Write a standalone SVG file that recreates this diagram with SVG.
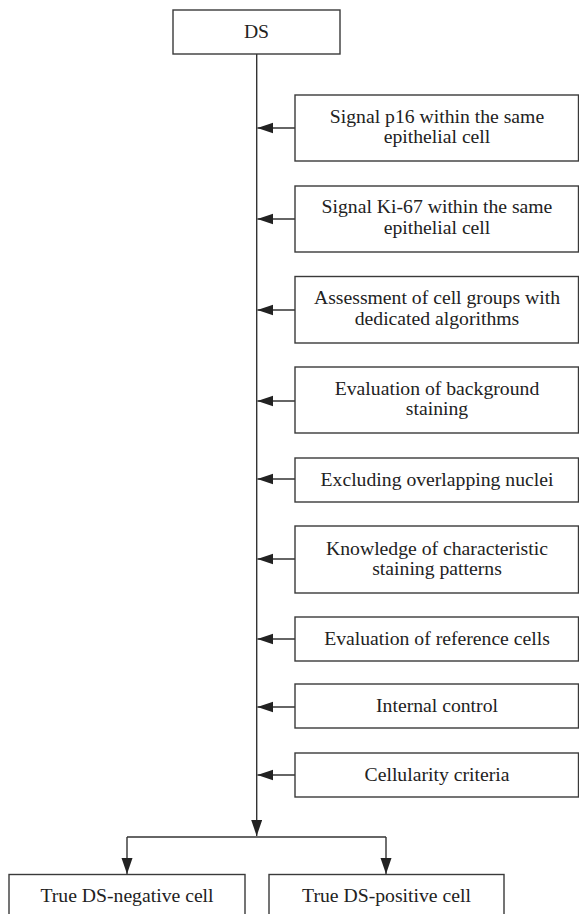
<svg xmlns="http://www.w3.org/2000/svg" width="579" height="914" viewBox="0 0 579 914">
<style>
.box{fill:#fff;stroke:#3a3a3a;stroke-width:1.4}
.t{font-family:"Liberation Serif","Times New Roman",serif;font-size:19.7px;fill:#222;text-anchor:middle}
.c{fill:none;stroke:#333;stroke-width:1.4}
</style>
<defs>
<marker id="ah" markerUnits="userSpaceOnUse" markerWidth="17" markerHeight="12" refX="16" refY="5.5" orient="auto">
<path d="M0,0 L16,5.5 L0,11 z" fill="#222"/>
</marker>
</defs>
<rect width="579" height="914" fill="#fff"/>
<g id="connectors">
<line class="c" x1="256.7" y1="54" x2="256.7" y2="836" marker-end="url(#ah)"/>
<line class="c" x1="127" y1="837" x2="386" y2="837"/>
<line class="c" x1="127" y1="837" x2="127" y2="874" marker-end="url(#ah)"/>
<line class="c" x1="386" y1="837" x2="386" y2="874" marker-end="url(#ah)"/>
<line class="c" x1="295" y1="128" x2="257.4" y2="128" marker-end="url(#ah)"/>
<line class="c" x1="295" y1="219" x2="257.4" y2="219" marker-end="url(#ah)"/>
<line class="c" x1="295" y1="310" x2="257.4" y2="310" marker-end="url(#ah)"/>
<line class="c" x1="295" y1="401" x2="257.4" y2="401" marker-end="url(#ah)"/>
<line class="c" x1="295" y1="479" x2="257.4" y2="479" marker-end="url(#ah)"/>
<line class="c" x1="295" y1="559" x2="257.4" y2="559" marker-end="url(#ah)"/>
<line class="c" x1="295" y1="639" x2="257.4" y2="639" marker-end="url(#ah)"/>
<line class="c" x1="295" y1="707" x2="257.4" y2="707" marker-end="url(#ah)"/>
<line class="c" x1="295" y1="775" x2="257.4" y2="775" marker-end="url(#ah)"/>
</g>
<g id="ds"><rect class="box" x="173" y="10" width="167" height="44"/><text class="t" x="256.5" y="37.5">DS</text></g>
<g id="n1"><rect class="box" x="295" y="95" width="283.5" height="66"/><text class="t" x="437" y="122.7">Signal p16 within the same</text><text class="t" x="437" y="143.4">epithelial cell</text></g>
<g id="n2"><rect class="box" x="295" y="186" width="283.5" height="66"/><text class="t" x="437" y="213.2">Signal Ki-67 within the same</text><text class="t" x="437" y="233.9">epithelial cell</text></g>
<g id="n3"><rect class="box" x="295" y="276.5" width="283.5" height="66.5"/><text class="t" x="437" y="304">Assessment of cell groups with</text><text class="t" x="437" y="324.7">dedicated algorithms</text></g>
<g id="n4"><rect class="box" x="295" y="367" width="283.5" height="66"/><text class="t" x="437" y="394.7">Evaluation of background</text><text class="t" x="437" y="415.4">staining</text></g>
<g id="n5"><rect class="box" x="295" y="458" width="283.5" height="44"/><text class="t" x="437" y="485.5">Excluding overlapping nuclei</text></g>
<g id="n6"><rect class="box" x="295" y="526" width="283.5" height="67"/><text class="t" x="437" y="554.5">Knowledge of characteristic</text><text class="t" x="437" y="575.2">staining patterns</text></g>
<g id="n7"><rect class="box" x="295" y="617" width="283.5" height="44"/><text class="t" x="437" y="644.5">Evaluation of reference cells</text></g>
<g id="n8"><rect class="box" x="295" y="684" width="283.5" height="44"/><text class="t" x="437" y="711.5">Internal control</text></g>
<g id="n9"><rect class="box" x="295" y="753" width="283.5" height="44"/><text class="t" x="437" y="780.5">Cellularity criteria</text></g>
<g id="neg"><rect class="box" x="9" y="874.5" width="236" height="60"/><text class="t" x="127" y="902">True DS-negative cell</text></g>
<g id="pos"><rect class="box" x="269" y="874.5" width="235" height="60"/><text class="t" x="386.5" y="902">True DS-positive cell</text></g>
</svg>
